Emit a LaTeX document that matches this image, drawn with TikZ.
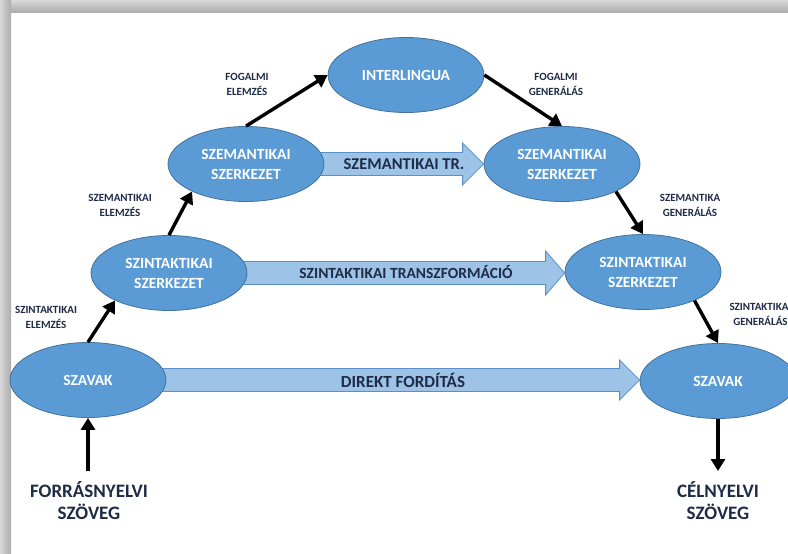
\documentclass[tikz,border=0pt]{standalone}
\usepackage{fontspec}
\setmainfont{Carlito}
\usetikzlibrary{shapes.geometric,arrows.meta,calc,backgrounds}

\definecolor{ovalfill}{HTML}{5B9BD5}
\definecolor{ovaledge}{HTML}{41719C}
\definecolor{barfill}{HTML}{9DC3E6}
\definecolor{baredge}{HTML}{5B8FC8}
\definecolor{ink}{HTML}{1F2B47}

\tikzset{
  oval/.style={ellipse, fill=ovalfill, draw=ovaledge, line width=0.8pt,
    minimum width=156pt, minimum height=75pt, inner sep=0pt, text=white,
    font=\bfseries\fontsize{15.5}{20}\selectfont, align=center},
  blockarr/.style={fill=barfill, draw=baredge, line width=0.8pt},
  barlabel/.style={text=ink, font=\bfseries},
  steplabel/.style={text=ink, font=\bfseries\fontsize{11}{15}\selectfont, align=center},
  endlabel/.style={text=ink, font=\bfseries\fontsize{19}{22}\selectfont, align=center},
  flow/.style={line width=3.4pt, draw=black, -{Triangle[length=12pt,width=14pt]}},
}

% wide block arrow from the east side of #1 to the west side of #2
% #3 half body height, #4 half head height, #5 head length, #6 label
\newcommand{\blockarrow}[6]{%
  \path[blockarr] let \p1=(#1.east), \p2=(#2.west) in
    (\x1-6pt,\y1+#3) -- (\x2-#5,\y1+#3) -- (\x2-#5,\y1+#4) -- (\x2,\y1)
    -- (\x2-#5,\y1-#4) -- (\x2-#5,\y1-#3) -- (\x1-6pt,\y1-#3) -- cycle;
  \node[barlabel] at ($(#1.east)!0.5!(#2.west)$) {#6};
}

\begin{document}
\begin{tikzpicture}[x=1pt, y=-1pt]
  \useasboundingbox (0,0) rectangle (788,554);
  \clip (0,0) rectangle (788,554);

  % levels of the translation pyramid
  \node[oval] (il)   at (406,75)  {INTERLINGUA};
  \node[oval] (semL) at (246,164) {SZEMANTIKAI\\SZERKEZET};
  \node[oval] (semR) at (562,164) {SZEMANTIKAI\\SZERKEZET};
  \node[oval] (synL) at (169,273) {SZINTAKTIKAI\\SZERKEZET};
  \node[oval] (synR) at (643,272) {SZINTAKTIKAI\\SZERKEZET};
  \node[oval] (wL)   at (88,380)  {SZAVAK};
  \node[oval] (wR)   at (718,381) {SZAVAK};

  % frame and transfer arrows behind the ovals
  \begin{scope}[on background layer]
    \fill[white] (0,0) rectangle (788,554);
    \shade[top color=gray!30, bottom color=gray!65] (0,0) rectangle (788,12);
    \shade[left color=gray!30, right color=gray!65] (0,0) rectangle (11,554);
    \blockarrow{wL}{wR}{11.5pt}{20pt}{20pt}{\fontsize{17}{20}\selectfont DIREKT FORDÍTÁS}
    \blockarrow{synL}{synR}{11.5pt}{22pt}{19pt}{\fontsize{15.5}{18}\selectfont SZINTAKTIKAI TRANSZFORMÁCIÓ}
    \blockarrow{semL}{semR}{11.5pt}{21pt}{21pt}{\fontsize{16.5}{19}\selectfont SZEMANTIKAI TR.}
  \end{scope}

  % analysis and generation steps
  \draw[flow] (semL.north) -- (il.west);
  \draw[flow] (il.east) -- (semR.north);
  \draw[flow] (synL.north) -- (semL.207);
  \draw[flow] (wL.north) -- (synL.207);
  \draw[flow] (semR.333) -- (synR.north);
  \draw[flow] (synR.331) -- (wR.north);

  \coordinate (srcTail) at (88,471);
  \coordinate (tgtHead) at (718,471);
  \draw[flow] (srcTail) -- (wL.south);
  \draw[flow] (wR.south) -- (tgtHead);

  % step labels
  \node[steplabel] (lfe) at (247,84)  {FOGALMI\\ELEMZÉS};
  \node[steplabel] (lfg) at (556,84)  {FOGALMI\\GENERÁLÁS};
  \node[steplabel] (lse) at (120,205) {SZEMANTIKAI\\ELEMZÉS};
  \node[steplabel] (lsg) at (690,205) {SZEMANTIKA\\GENERÁLÁS};
  \node[steplabel] (lye) at (46,317)  {SZINTAKTIKAI\\ELEMZÉS};
  \node[steplabel, anchor=west] (lyg) at (726,314) {SZINTAKTIKAI\\GENERÁLÁS};

  % source and target texts
  \node[endlabel] (src) at (89,501)  {FORRÁSNYELVI\\SZÖVEG};
  \node[endlabel] (tgt) at (718,501) {CÉLNYELVI\\SZÖVEG};
\end{tikzpicture}
\end{document}
